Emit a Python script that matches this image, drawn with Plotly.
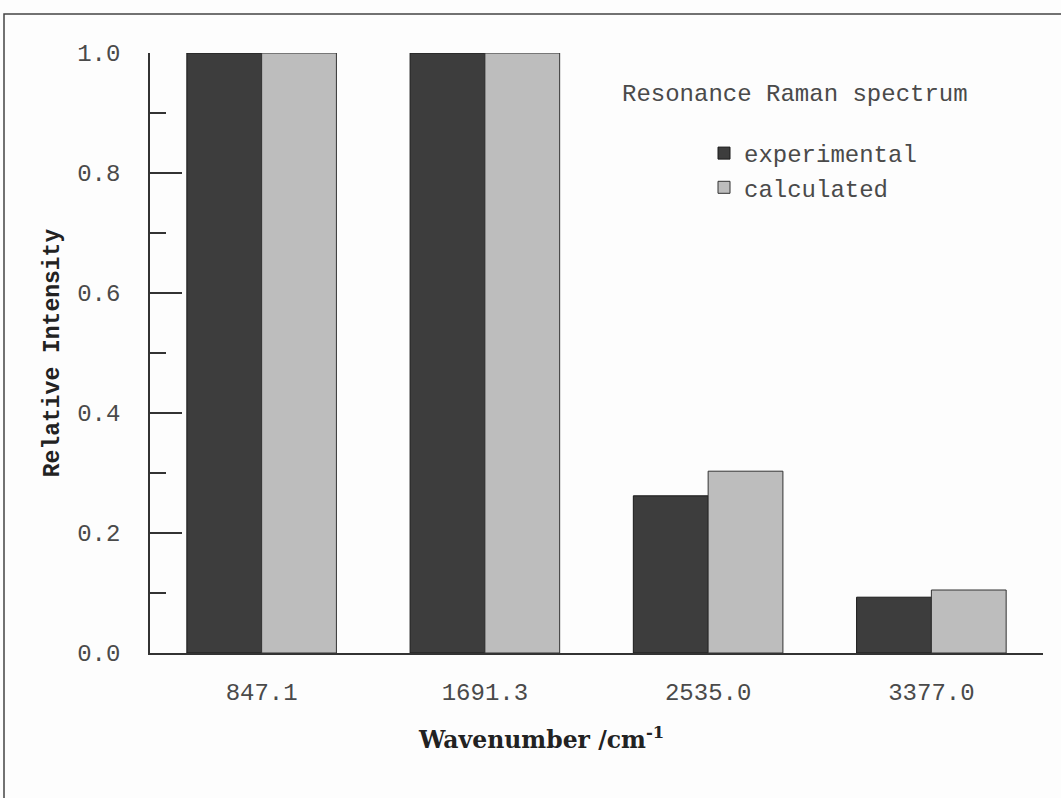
import plotly.graph_objects as go

categories = ["847.1", "1691.3", "2535.0", "3377.0"]
experimental = [1.0, 1.0, 0.262, 0.093]
calculated = [1.0, 1.0, 0.303, 0.105]
y_ticks = [0.0, 0.2, 0.4, 0.6, 0.8, 1.0]
y_tick_labels = ["0.0", "0.2", "0.4", "0.6", "0.8", "1.0"]

W, H = 1061, 798
L, R, T, B = 150, 1043, 53, 653

mono = "Liberation Mono"
serif = "DejaVu Serif"
txt = "#4a4a4a"
fs = 24

fig = go.Figure()
fig.add_trace(go.Bar(x=categories, y=experimental, name="experimental",
                     marker=dict(color="#3d3d3d", line=dict(color="#1a1a1a", width=1))))
fig.add_trace(go.Bar(x=categories, y=calculated, name="calculated",
                     marker=dict(color="#bdbdbd", line=dict(color="#333333", width=1))))

fig.update_layout(
    width=W, height=H,
    margin=dict(l=L, r=W - R, t=T, b=H - B, autoexpand=False),
    paper_bgcolor="#fdfdfd", plot_bgcolor="#fdfdfd",
    barmode="group", bargap=0.33, bargroupgap=0.0,
    font=dict(family=mono, size=fs, color=txt),
    xaxis=dict(
        type="category", range=[-0.5, 3.5],
        showline=True, linecolor="#333333", linewidth=1.5,
        ticks="", showgrid=False, ticklabelstandoff=16,
        tickfont=dict(family=mono, size=fs, color=txt),
    ),
    yaxis=dict(
        range=[0, 1.0], tickvals=y_ticks, ticktext=y_tick_labels,
        showline=True, linecolor="#333333", linewidth=1.5,
        ticks="inside", ticklen=32, tickcolor="#333333", tickwidth=1.5,
        minor=dict(dtick=0.1, ticks="inside", ticklen=16, tickcolor="#333333", tickwidth=1.5),
        showgrid=False, zeroline=False, ticklabelstandoff=23,
        tickfont=dict(family=mono, size=fs, color=txt),
        title=dict(text="<b>Relative Intensity</b>",
                   font=dict(family=mono, size=23, color="#222222"), standoff=11),
    ),
    legend=dict(x=(704 - L) / (R - L), y=(B - 131) / (B - T), xanchor="left", yanchor="top",
                bgcolor="rgba(0,0,0,0)", font=dict(family=mono, size=fs, color=txt),
                itemwidth=30, tracegroupgap=0),
    showlegend=True,
    annotations=[
        dict(text="Resonance Raman spectrum", xref="paper", yref="paper",
             x=(620 - L) / (R - L), y=(B - 95) / (B - T), xanchor="left", yanchor="middle",
             showarrow=False, font=dict(family=mono, size=fs, color=txt)),
        dict(text="<b>Wavenumber /cm<sup>-1</sup></b>", xref="paper", yref="paper",
             x=(541 - L) / (R - L), y=(B - 738) / (B - T), xanchor="center", yanchor="middle",
             showarrow=False, font=dict(family=serif, size=23.5, color="#222222")),
    ],
    shapes=[dict(type="rect", xref="paper", yref="paper",
                 x0=(4 - L) / (R - L), x1=(1100 - L) / (R - L),
                 y0=(B - 900) / (B - T), y1=(B - 14) / (B - T),
                 line=dict(color="#444444", width=1.5), layer="below")],
)

fig.write_html("out.html")
